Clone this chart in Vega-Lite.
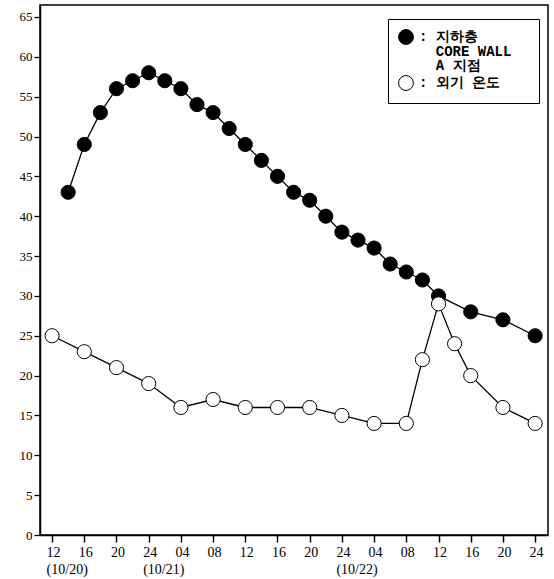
{
  "$schema": "https://vega.github.io/schema/vega-lite/v6.json",
  "autosize": "none",
  "width": 508,
  "height": 530,
  "padding": {"left": 40, "top": 5, "right": 6, "bottom": 44},
  "background": "white",
  "config": {
    "view": {"stroke": "black", "strokeWidth": 1.5},
    "font": "Liberation Serif",
    "style": {"guide-label": {"lineHeight": 14.5}}
  },
  "data": {
    "values": [
      {"series": "지하층 CORE WALL A 지점", "hour": 2, "temp": 43},
      {"series": "지하층 CORE WALL A 지점", "hour": 4, "temp": 49},
      {"series": "지하층 CORE WALL A 지점", "hour": 6, "temp": 53},
      {"series": "지하층 CORE WALL A 지점", "hour": 8, "temp": 56},
      {"series": "지하층 CORE WALL A 지점", "hour": 10, "temp": 57},
      {"series": "지하층 CORE WALL A 지점", "hour": 12, "temp": 58},
      {"series": "지하층 CORE WALL A 지점", "hour": 14, "temp": 57},
      {"series": "지하층 CORE WALL A 지점", "hour": 16, "temp": 56},
      {"series": "지하층 CORE WALL A 지점", "hour": 18, "temp": 54},
      {"series": "지하층 CORE WALL A 지점", "hour": 20, "temp": 53},
      {"series": "지하층 CORE WALL A 지점", "hour": 22, "temp": 51},
      {"series": "지하층 CORE WALL A 지점", "hour": 24, "temp": 49},
      {"series": "지하층 CORE WALL A 지점", "hour": 26, "temp": 47},
      {"series": "지하층 CORE WALL A 지점", "hour": 28, "temp": 45},
      {"series": "지하층 CORE WALL A 지점", "hour": 30, "temp": 43},
      {"series": "지하층 CORE WALL A 지점", "hour": 32, "temp": 42},
      {"series": "지하층 CORE WALL A 지점", "hour": 34, "temp": 40},
      {"series": "지하층 CORE WALL A 지점", "hour": 36, "temp": 38},
      {"series": "지하층 CORE WALL A 지점", "hour": 38, "temp": 37},
      {"series": "지하층 CORE WALL A 지점", "hour": 40, "temp": 36},
      {"series": "지하층 CORE WALL A 지점", "hour": 42, "temp": 34},
      {"series": "지하층 CORE WALL A 지점", "hour": 44, "temp": 33},
      {"series": "지하층 CORE WALL A 지점", "hour": 46, "temp": 32},
      {"series": "지하층 CORE WALL A 지점", "hour": 48, "temp": 30},
      {"series": "지하층 CORE WALL A 지점", "hour": 52, "temp": 28},
      {"series": "지하층 CORE WALL A 지점", "hour": 56, "temp": 27},
      {"series": "지하층 CORE WALL A 지점", "hour": 60, "temp": 25},
      {"series": "외기 온도", "hour": 0, "temp": 25},
      {"series": "외기 온도", "hour": 4, "temp": 23},
      {"series": "외기 온도", "hour": 8, "temp": 21},
      {"series": "외기 온도", "hour": 12, "temp": 19},
      {"series": "외기 온도", "hour": 16, "temp": 16},
      {"series": "외기 온도", "hour": 20, "temp": 17},
      {"series": "외기 온도", "hour": 24, "temp": 16},
      {"series": "외기 온도", "hour": 28, "temp": 16},
      {"series": "외기 온도", "hour": 32, "temp": 16},
      {"series": "외기 온도", "hour": 36, "temp": 15},
      {"series": "외기 온도", "hour": 40, "temp": 14},
      {"series": "외기 온도", "hour": 44, "temp": 14},
      {"series": "외기 온도", "hour": 46, "temp": 22},
      {"series": "외기 온도", "hour": 48, "temp": 29},
      {"series": "외기 온도", "hour": 50, "temp": 24},
      {"series": "외기 온도", "hour": 52, "temp": 20},
      {"series": "외기 온도", "hour": 56, "temp": 16},
      {"series": "외기 온도", "hour": 60, "temp": 14}
    ]
  },
  "encoding": {
    "x": {
      "field": "hour", "type": "quantitative",
      "scale": {"domain": [-1.5, 61.6], "nice": false, "zero": false},
      "axis": {
        "title": null, "grid": false,
        "values": [0,4,8,12,16,20,24,28,32,36,40,44,48,52,56,60],
        "labelExpr": "[['12','(10/20)'],'16','20',['24','(10/21)'],'04','08','12','16','20',['24','(10/22)'],'04','08','12','16','20','24'][round(datum.value/4)]",
        "labelAlign": "left", "labelOffset": -6, "labelBaseline": "top",
        "labelLineHeight": 17, "labelFontSize": 14, "labelColor": "black",
        "labelPadding": 3, "labelFont": "Liberation Serif",
        "tickSize": 7, "tickColor": "black", "tickWidth": 1.5,
        "domainColor": "black", "domainWidth": 1.5, "labelFlush": false, "labelOverlap": false
      }
    },
    "y": {
      "field": "temp", "type": "quantitative",
      "scale": {"domain": [0, 66.5], "nice": false},
      "axis": {
        "title": null, "grid": false,
        "values": [0,5,10,15,20,25,30,35,40,45,50,55,60,65],
        "labelFontSize": 13, "labelColor": "black", "labelFont": "Liberation Serif",
        "labelPadding": 2,
        "tickSize": 6, "tickColor": "black", "tickWidth": 1.3,
        "domainColor": "black", "domainWidth": 1.5
      }
    }
  },
  "layer": [
    {
      "mark": {"type": "line", "color": "black", "strokeWidth": 1.3},
      "encoding": {"detail": {"field": "series"}}
    },
    {
      "mark": {"type": "point", "shape": "circle", "filled": true, "size": 200, "stroke": "black", "strokeWidth": 1, "opacity": 1},
      "encoding": {
        "fill": {
          "field": "series", "type": "nominal",
          "scale": {"domain": ["지하층 CORE WALL A 지점", "외기 온도"], "range": ["black", "white"]},
          "legend": {
            "title": null, "orient": "none", "legendX": 348, "legendY": 14,
            "strokeColor": "black", "padding": 10, "fillColor": "white",
            "symbolType": "circle", "symbolSize": 220, "symbolStrokeColor": "black", "symbolStrokeWidth": 1,
            "labelExpr": "datum.label == '외기 온도' ? ':\u00a0외기\u00a0온도' : [':\u00a0지하층', '\u200b\u00a0\u00a0CORE\u00a0WALL\u00a0\u00a0\u200b', '\u200b\u00a0\u00a0A\u00a0지점']",
            "labelFont": "Liberation Mono", "labelFontSize": 14, "labelColor": "black",
            "labelFontWeight": "bold", "rowPadding": 0,
            "labelOffset": 5, "labelLimit": 250
          }
        }
      }
    }
  ]
}
